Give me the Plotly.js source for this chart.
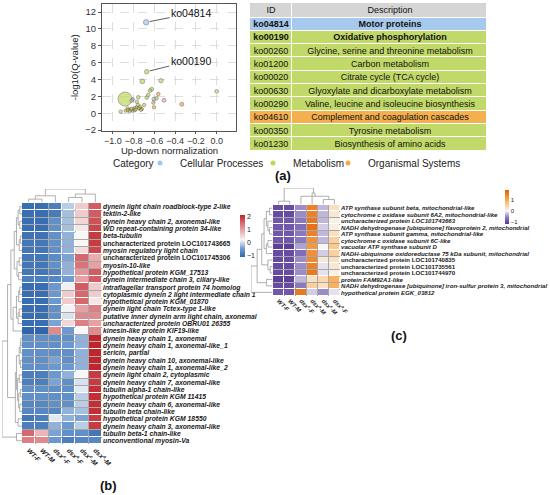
<!DOCTYPE html>
<html><head><meta charset="utf-8">
<script src="https://cdn.plot.ly/plotly-3.0.1.min.js"></script>
<style>html,body{margin:0;padding:0;background:#fff}#chart{width:550px;height:495px}</style>
</head><body><div id="chart"></div>
<script>
// ---------- (a) bubble plot data ----------
const catNames = ['Cellular Processes', 'Metabolism', 'Organismal Systems', 'Other'];
const catColors = ['#a3c6ee', '#bed85c', '#f5ab45', '#eaa6c6'];
const ptX = [-0.68, -0.675, -0.717, -0.537, -0.627, -0.643, -0.66, -0.675, 0.0, -0.337, -0.508, -0.563, -0.605, -0.58, -0.611, -0.605, -0.70, -0.74, -0.756, -0.77, -0.81, -0.82, -0.884, -0.926,
  -0.88, -0.86, -0.85, -0.83, -0.82, -0.80, -0.79, -0.78, -0.77, -0.75, -0.74, -0.72, -0.84, -0.81, -0.79, -0.76, -0.86, -0.73];
const ptY = [10.78, 4.93, 3.79, 3.86, 2.84, 2.68, 2.17, 1.85, 2.6, 1.07, 1.54, 2.29, 1.69, 1.78, 1.26, 0.71, 0.98, 0.59, 1.9, 1.37, 1.66, 1.5, 1.69, 0.19,
  0.3, 0.35, 0.45, 0.4, 0.55, 0.5, 0.65, 0.45, 0.7, 0.6, 0.8, 0.5, 0.2, 0.3, 0.35, 1.0, 0.6, 0.4];
const ptSize = [5.5, 4.5, 4.8, 4.3, 4, 3.6, 3.6, 3.6, 3.8, 4, 4, 3.6, 4, 3.6, 3.5, 3.5, 3.5, 3.5, 3.6, 3.5, 3.6, 3.6, 14, 3.6,
  3.2, 3.2, 3.2, 3.2, 3.2, 3.2, 3.2, 3.2, 3.2, 3.2, 3.2, 3.2, 3.2, 3.2, 3.2, 3.4, 3.2, 3.2];
const ptCat = [0, 1, 1, 1, 1, 1, 1, 1, 1, 2, 3, 2, 0, 1, 2, 2, 1, 1, 1, 1, 0, 3, 1, 1,
  1, 2, 1, 1, 2, 1, 1, 2, 1, 1, 2, 1, 1, 0, 1, 1, 1, 2];
const labelIdx = [0, 1];
const labelText = ['ko04814', 'ko00190'];

// ---------- (a) table data ----------
const tblHeader = ['ID', 'Description'];
const tblIds = ['ko04814', 'ko00190', 'ko00260', 'ko01200', 'ko00020', 'ko00630', 'ko00290', 'ko04610', 'ko00350', 'ko01230'];
const tblDesc = ['Motor proteins', 'Oxidative phosphorylation', 'Glycine, serine and threonine metabolism', 'Carbon metabolism',
  'Citrate cycle (TCA cycle)', 'Glyoxylate and dicarboxylate metabolism', 'Valine, leucine and isoleucine biosynthesis',
  'Complement and coagulation cascades', 'Tyrosine metabolism', 'Biosynthesis of amino acids'];
const tblCat = [0, 1, 1, 1, 1, 1, 1, 2, 1, 1];
const tblBold = [true, true, false, false, false, false, false, false, false, false];
const tblColors = ['#a7c9ee', '#c1d968', '#f4b04e', '#d5d5d5'];

// ---------- (b) heatmap data ----------
const bCols = ['WT-F', 'WT-M', 'dsx<sup>c</sup>-F', 'dsx<sup>a</sup>-F', 'dsx<sup>c</sup>-M', 'dsx<sup>a</sup>-M'];
const bRows = ['dynein light chain roadblock-type 2-like', 'tektin-2-like', 'dynein heavy chain 2, axonemal-like',
  'WD repeat-containing protein 34-like', 'beta-tubulin', 'uncharacterized protein LOC101743665', 'myosin regulatory light chain',
  'uncharacterized protein LOC101745306', 'myosin-10-like', 'hypothetical protein KGM_17513', 'dynein intermediate chain 3, ciliary-like',
  'intraflagellar transport protein 74 homolog', 'cytoplasmic dynein 2 light intermediate chain 1', 'hypothetical protein KGM_01870',
  'dynein light chain Tctex-type 1-like', 'putative inner dynein arm light chain, axonemal', 'uncharacterized protein OBRU01 26355',
  'kinesin-like protein KIF19-like', 'dynein heavy chain 1, axonemal', 'dynein heavy chain 1, axonemal-like_1', 'sericin, partial',
  'dynein heavy chain 10, axonemal-like', 'dynein heavy chain 1, axonemal-like_2', 'dynein light chain 2, cytoplasmic',
  'dynein heavy chain 7, axonemal-like', 'tubulin alpha-1 chain-like', 'hypothetical protein KGM 11415', 'dynein heavy chain 6, axonemal-like',
  'tubulin beta chain-like', 'hypothetical protein KGM 18550', 'dynein heavy chain 3, axonemal-like', 'tubulin beta-1 chain-like',
  'unconventional myosin-Va'];
const bUpright = [5, 7];
const bZ = [
  [-1.0, -1.0, -0.8, -0.1, 0.6, 1.6], [-1.0, -1.0, -0.85, -0.2, 0.6, 1.6], [-1.0, -1.0, -0.6, -0.2, 0.5, 1.7],
  [-1.0, -1.0, -0.6, -0.2, 0.35, 1.8], [-0.95, -0.95, -0.6, -0.3, 0.2, 1.9], [-0.9, -0.9, -0.6, -0.3, 0.2, 1.9],
  [-0.9, -0.9, -0.6, -0.3, 0.45, 1.8], [-0.9, -0.9, -0.65, -0.4, 1.5, 0.9], [-0.9, -0.9, -0.6, -0.3, 1.4, 1.0],
  [-0.9, -0.9, -0.75, -0.3, 1.1, 1.6], [-0.8, -0.8, -0.7, -0.45, 1.0, 1.6], [-1.0, -1.0, -0.5, 0.15, 1.6, 0.6],
  [-1.0, -1.0, -0.5, 0.6, 1.5, 0.6], [-1.0, -1.0, -0.5, 0.6, 1.5, 0.35], [-1.0, -1.0, -0.6, 0.25, 1.0, 1.3],
  [-1.0, -1.0, -0.6, 0.05, 1.2, 1.2], [-1.0, -1.0, -0.4, 0.5, 1.3, 1.0], [-1.1, -1.1, 1.2, -0.5, 0.2, 1.2],
  [-0.6, -0.6, -0.6, -0.6, -0.3, 2.1], [-0.6, -0.6, -0.6, -0.5, -0.3, 2.1], [-0.6, -0.6, -0.6, -0.6, -0.3, 2.1],
  [-0.6, -0.6, -0.4, -0.6, -0.3, 2.1], [-0.6, -0.6, -0.5, -0.5, -0.3, 2.1], [-0.8, -0.8, -0.5, -0.3, 0.2, 1.9],
  [-0.8, -0.8, -0.4, -0.6, 0.05, 1.9], [-0.6, -0.6, -0.6, -0.6, 0.1, 2.0], [-0.6, -0.6, -0.6, -0.6, -0.1, 2.0],
  [-0.7, -0.7, -0.6, -0.6, -0.1, 2.0], [-0.7, -0.7, -0.7, -0.3, -0.2, 2.0], [-0.9, -0.8, 0.1, -0.3, -0.4, 1.9],
  [-0.8, -0.8, -0.3, -0.5, -0.1, 1.9], [1.5, 0.8, -0.4, -0.6, -0.6, -0.9], [1.3, 1.2, -0.5, -0.8, -0.7, -0.7]];
const bRowTree = [[-1, -2, 0.2], [-3, -4, 0.2], [1, 2, 0.35], [-5, -6, 0.15], [4, -7, 0.25], [3, 5, 0.5], [-8, -9, 0.25],
  [-10, -11, 0.3], [7, 8, 0.45], [6, 9, 0.7], [-12, -13, 0.2], [11, -14, 0.3], [-15, -16, 0.25], [13, -17, 0.35], [12, 14, 0.5],
  [15, -18, 0.8], [10, 16, 1.0], [-19, -20, 0.1], [18, -21, 0.15], [-22, -23, 0.15], [19, 20, 0.25], [-24, -25, 0.25],
  [-26, -27, 0.15], [-28, -29, 0.2], [23, 24, 0.3], [22, 25, 0.4], [21, 26, 0.5], [-30, -31, 0.35], [27, 28, 0.6],
  [17, 29, 1.3], [-32, -33, 0.5], [30, 31, 1.8]];
const bColTree = [[-1, -2, 0.3], [1, -3, 0.6], [-4, -5, 0.45], [3, -6, 0.75], [2, 4, 1.2]];

// ---------- (c) heatmap data ----------
const cCols = ['WT-F', 'WT-M', 'dsx<sup>c</sup>-F', 'dsx<sup>a</sup>-M', 'dsx<sup>c</sup>-M', 'dsx<sup>a</sup>-F'];
const cRows = ['ATP synthase subunit beta, mitochondrial-like', 'cytochrome c oxidase subunit 6A2, mitochondrial-like',
  'uncharacterized protein LOC101743663', 'NADH dehydrogenase [ubiquinone] flavoprotein 2, mitochondrial',
  'ATP synthase subunit gamma, mitochondrial-like', 'cytochrome c oxidase subunit 6C-like', 'vacuolar ATP synthase subunit D',
  'NADH-ubiquinone oxidoreductase 75 kDa subunit, mitochondrial', 'uncharacterized protein LOC101740835',
  'uncharacterized protein LOC101735561', 'uncharacterized protein LOC101744970', 'protein FAM92A1-like',
  'NADH dehydrogenase [ubiquinone] iron-sulfur protein 3, mitochondrial', 'hypothetical protein EGK_03812'];
const cUpright = [8, 9, 10];
const cZ = [
  [-1.0, -1.0, -0.5, 1.5, -0.3, 0.3], [-1.0, -1.0, -0.5, 1.5, -0.3, 0.2], [-0.9, -0.9, -0.6, 1.6, -0.3, 0.1],
  [-0.9, -0.9, -0.7, 1.7, -0.2, 0.1], [-0.9, -0.9, -0.6, 1.5, -0.3, 0.3], [-0.9, -0.9, -0.6, 1.3, -0.3, 0.5],
  [-1.1, -1.1, -0.4, 1.2, 0.0, 0.6], [-1.0, -1.0, -0.7, 1.3, -0.2, 0.5], [-1.0, -1.0, -0.5, 1.4, 0.2, 0.3],
  [-1.0, -1.0, -0.5, 1.5, -0.1, 0.2], [-1.0, -1.0, -0.5, 1.6, -0.1, 0.1], [-1.1, -1.1, -0.3, 0.3, 0.4, 0.9],
  [-1.0, -1.0, -0.6, 0.5, 0.3, 0.9], [-0.9, -0.9, 1.6, -0.2, -0.5, -0.1]];
const cRowTree = [[-1, -2, 0.2], [-4, -5, 0.2], [-3, 2, 0.3], [1, 3, 0.4], [-6, -7, 0.3], [5, -8, 0.4], [4, 6, 0.55],
  [-10, -11, 0.15], [-9, 8, 0.3], [7, 9, 0.7], [-12, -13, 0.4], [10, 11, 1.0], [12, -14, 1.4]];
const cColTree = [[-1, -2, 0.2], [-5, -6, 0.3], [-3, 2, 0.5], [3, -4, 0.7], [1, 4, 1.0]];

// ---------- helpers ----------
const W = 550, H = 495;
const px = v => v / W;
const py = v => 1 - v / H;
const FONT = 'Liberation Sans, Arial, sans-serif';
const TBL_COLW = [42, 195], TBL_HEAD_H = 14.5, TBL_ROW_H = 13.3;
const LEGEND_TEXT_X = [180, 293, 368];

function dendro(merges, orient) {
  const pos = [], hts = [], xs = [], ys = [];
  const gp = c => c < 0 ? (-c - 1) : pos[c - 1];
  const gh = c => c < 0 ? 0 : hts[c - 1];
  merges.forEach(([a, b, h], i) => {
    const pa = gp(a), pb = gp(b), ha = gh(a), hb = gh(b);
    pos[i] = (pa + pb) / 2; hts[i] = h;
    const P = [pa, pa, pb, pb], Hh = [ha, h, h, hb];
    if (orient === 'top') { xs.push(...P, null); ys.push(...Hh, null); }
    else { xs.push(...Hh, null); ys.push(...P, null); }
  });
  return { xs, ys, maxH: Math.max(...hts) };
}
const idx = n => Array.from({ length: n }, (_, i) => i);
const bounds = n => Array.from({ length: n + 1 }, (_, i) => i - 0.5);
const rowLabel = (t, i, upright) => upright.includes(i) ? '<b>' + t + '</b>' : '<b><i>' + t + '</i></b>';

const traces = [];
catNames.forEach((name, c) => {
  const ii = ptX.map((_, i) => i).filter(i => ptCat[i] === c);
  traces.push({
    type: 'scatter', mode: 'markers', xaxis: 'x', yaxis: 'y', name, showlegend: false, hoverinfo: 'skip',
    x: ii.map(i => ptX[i]), y: ii.map(i => ptY[i]),
    marker: { color: catColors[c], size: ii.map(i => ptSize[i]), line: { color: '#4a4a4a', width: 0.6 } }
  });
});
const legendIds = ['legend', 'legend2', 'legend3'];
catNames.slice(0, 3).forEach((name, c) => {
  traces.push({ type: 'scatter', mode: 'markers', xaxis: 'x', yaxis: 'y', name, x: [null], y: [null], showlegend: true,
    legend: legendIds[c], marker: { color: catColors[c], size: 5 } });
});

// table drawn as a heatmap of category colours with cell texts
const tblXEdges = [0, TBL_COLW[0], TBL_COLW[0] + TBL_COLW[1]];
const tblYEdges = [0].concat(idx(tblIds.length + 1).map(i => TBL_HEAD_H + i * TBL_ROW_H));
const tblZ = [[3, 3]].concat(tblCat.map(c => [c, c]));
const B = (t, b) => b ? '<b>' + t + '</b>' : t;
const tblText = [tblHeader].concat(tblIds.map((id, i) => [B(id, tblBold[i]), B(tblDesc[i], tblBold[i])]));
traces.push({
  type: 'heatmap', xaxis: 'x8', yaxis: 'y8', x: tblXEdges, y: tblYEdges, z: tblZ, text: tblText, texttemplate: '%{text}',
  textfont: { family: FONT, size: 9, color: '#111' }, zmin: 0, zmax: 3, showscale: false, xgap: 1, ygap: 1, hoverinfo: 'skip',
  colorscale: [[0, tblColors[0]], [1 / 3, tblColors[1]], [2 / 3, tblColors[2]], [1, tblColors[3]]]
});

// (b) heatmap
traces.push({
  type: 'heatmap', xaxis: 'x2', yaxis: 'y2', z: bZ, x: idx(6), y: idx(bRows.length), zmin: -1.1, zmax: 2.1, xgap: 1, ygap: 1,
  hoverinfo: 'skip',
  colorscale: [[0, '#2f66ad'], [0.2, '#6f9bd0'], [0.406, '#f7f7f7'], [0.65, '#e8a2a6'], [1, '#c0242c']],
  colorbar: { x: px(240), xanchor: 'left', y: py(236), yanchor: 'middle', len: 42 / H, thickness: 5, outlinewidth: 0,
    tickvals: [-1, 0, 1, 2], ticks: '', xpad: 0, ypad: 0, tickfont: { size: 7, family: FONT, color: '#222' } }
});
const bRD = dendro(bRowTree, 'left'), bCD = dendro(bColTree, 'top');
traces.push({ type: 'scatter', mode: 'lines', xaxis: 'x4', yaxis: 'y4', x: bRD.xs, y: bRD.ys, line: { color: '#9c9c9c', width: 0.8 }, showlegend: false, hoverinfo: 'skip' });
traces.push({ type: 'scatter', mode: 'lines', xaxis: 'x3', yaxis: 'y3', x: bCD.xs, y: bCD.ys, line: { color: '#9c9c9c', width: 0.8 }, showlegend: false, hoverinfo: 'skip' });

// (c) heatmap
traces.push({
  type: 'heatmap', xaxis: 'x5', yaxis: 'y5', z: cZ, x: idx(6), y: idx(cRows.length), zmin: -1.2, zmax: 1.9, xgap: 1, ygap: 1,
  hoverinfo: 'skip',
  colorscale: [[0, '#553592'], [0.2, '#8c7bc2'], [0.387, '#f7f7f7'], [0.65, '#fdb863'], [1, '#e35f05']],
  colorbar: { x: px(505), xanchor: 'left', y: py(207), yanchor: 'middle', len: 34 / H, thickness: 4, outlinewidth: 0,
    tickvals: [-1, 0, 1], ticks: '', xpad: 0, ypad: 0, tickfont: { size: 6, family: FONT, color: '#222' } }
});
const cRD = dendro(cRowTree, 'left'), cCD = dendro(cColTree, 'top');
traces.push({ type: 'scatter', mode: 'lines', xaxis: 'x7', yaxis: 'y7', x: cRD.xs, y: cRD.ys, line: { color: '#9c9c9c', width: 0.8 }, showlegend: false, hoverinfo: 'skip' });
traces.push({ type: 'scatter', mode: 'lines', xaxis: 'x6', yaxis: 'y6', x: cCD.xs, y: cCD.ys, line: { color: '#9c9c9c', width: 0.8 }, showlegend: false, hoverinfo: 'skip' });

const hidden = (dom, range, anchor) => ({ domain: dom, range, anchor, visible: false, fixedrange: true });
const minorGrid = n => ({ tickmode: 'array', tickvals: bounds(n), showgrid: true, gridcolor: '#a8a8a8', gridwidth: 1, ticks: '' });

const annotations = labelIdx.map((pi, k) => ({
  xref: 'x', yref: 'y', x: ptX[pi], y: ptY[pi], text: labelText[k], showarrow: true, arrowhead: 0, arrowwidth: 0.8,
  arrowcolor: '#333', ax: k === 0 ? 45 : 44, ay: k === 0 ? -9 : -11, standoff: ptSize[pi] / 2 + 1,
  font: { size: 10.5, family: FONT, color: '#111' }
}));
[['(a)', 283, 175], ['(b)', 108, 485], ['(c)', 399, 335]].forEach(([t, x, y]) => annotations.push({
  xref: 'paper', yref: 'paper', x: px(x), y: py(y), text: '<b>' + t + '</b>', showarrow: false,
  font: { size: 13, family: FONT, color: '#111' }, xanchor: 'center', yanchor: 'middle'
}));
annotations.push({ xref: 'paper', yref: 'paper', x: px(111), y: py(163), text: 'Category', showarrow: false, xanchor: 'left',
  yanchor: 'middle', font: { size: 10, family: FONT, color: '#222' } });
annotations.push({ xref: 'paper', yref: 'paper', x: px(169), y: py(150.5), text: 'Up-down normalization', showarrow: false,
  xanchor: 'center', yanchor: 'middle', font: { size: 9.5, family: FONT, color: '#222' } });

const legendBase = x => ({ orientation: 'h', x: px(x - 40), xanchor: 'left', y: py(163), yanchor: 'middle', itemwidth: 30,
  font: { size: 10, color: '#222' }, bgcolor: 'rgba(0,0,0,0)' });

const layout = {
  width: W, height: H, margin: { l: 0, r: 0, t: 0, b: 0 }, paper_bgcolor: '#fff', plot_bgcolor: '#fff',
  font: { family: FONT, color: '#222' },
  showlegend: true,
  legend: legendBase(LEGEND_TEXT_X[0]),
  legend2: legendBase(LEGEND_TEXT_X[1]),
  legend3: legendBase(LEGEND_TEXT_X[2]),
  xaxis: {
    domain: [px(102), px(236)], range: [-1.106, 0.186], anchor: 'y', tickvals: [-1, -0.8, -0.6, -0.4, -0.2, 0], tickformat: '.1f',
    tickangle: 0, showline: true, mirror: true, linecolor: '#555', linewidth: 1, ticks: 'outside', ticklen: 2, tickcolor: '#555',
    showgrid: true, gridcolor: '#d6d6d6', griddash: 'dash', gridwidth: 0.8, zeroline: false,
    tickfont: { size: 9, color: '#333' }
  },
  yaxis: {
    domain: [py(130.5), py(4)], range: [-2.04, 12.95], anchor: 'x', tickvals: [-2, 0, 2, 4, 6, 8, 10, 12],
    showline: true, mirror: true, linecolor: '#555', linewidth: 1, ticks: 'outside', ticklen: 3, tickcolor: '#555',
    showgrid: true, gridcolor: '#d6d6d6', griddash: 'dash', gridwidth: 0.8, zeroline: false,
    tickfont: { size: 9.5, color: '#333' }, title: { text: '-log10(Q-value)', font: { size: 9.5, color: '#222' }, standoff: 4 }
  },
  xaxis2: {
    domain: [px(22), px(102)], range: [-0.5, 5.5], anchor: 'y2', tickmode: 'array', tickvals: idx(6),
    ticktext: bCols.map(t => '<b><i>' + t + '</i></b>'), tickangle: 45, ticks: '', showgrid: false, zeroline: false,
    minor: minorGrid(6), tickfont: { size: 6.5, color: '#222' }, fixedrange: true, automargin: false
  },
  yaxis2: {
    domain: [py(444.4), py(203)], range: [bRows.length - 0.5, -0.5], anchor: 'x2', side: 'right', tickmode: 'array',
    tickvals: idx(bRows.length), ticktext: bRows.map((t, i) => rowLabel(t, i, bUpright)), ticks: '', showgrid: false,
    zeroline: false, minor: minorGrid(bRows.length), tickfont: { size: 6.8, color: '#1a1a1a' }, fixedrange: true, automargin: false
  },
  xaxis3: hidden([px(22), px(102)], [-0.5, 5.5], 'y3'),
  yaxis3: hidden([py(202.5), py(189)], [0, bCD.maxH], 'x3'),
  xaxis4: hidden([px(2), px(22)], [bRD.maxH, 0], 'y4'),
  yaxis4: hidden([py(444.4), py(203)], [bRows.length - 0.5, -0.5], 'x4'),
  xaxis5: {
    domain: [px(273), px(340)], range: [-0.5, 5.5], anchor: 'y5', tickmode: 'array', tickvals: idx(6),
    ticktext: cCols.map(t => '<b><i>' + t + '</i></b>'), tickangle: 45, ticks: '', showgrid: false, zeroline: false,
    minor: minorGrid(6), tickfont: { size: 5.8, color: '#222' }, fixedrange: true, automargin: false
  },
  yaxis5: {
    domain: [py(295.6), py(205)], range: [cRows.length - 0.5, -0.5], anchor: 'x5', side: 'right', tickmode: 'array',
    tickvals: idx(cRows.length), ticktext: cRows.map((t, i) => rowLabel(t, i, cUpright)), ticks: '', showgrid: false,
    zeroline: false, minor: minorGrid(cRows.length), tickfont: { size: 6.1, color: '#1a1a1a' }, fixedrange: true, automargin: false
  },
  xaxis6: hidden([px(273), px(340)], [-0.5, 5.5], 'y6'),
  yaxis6: hidden([py(204.5), py(188)], [0, cCD.maxH], 'x6'),
  xaxis7: hidden([px(251), px(272.5)], [cRD.maxH, 0], 'y7'),
  yaxis7: hidden([py(295.6), py(205)], [cRows.length - 0.5, -0.5], 'x7'),
  xaxis8: hidden([px(250), px(487)], [0, TBL_COLW[0] + TBL_COLW[1]], 'y8'),
  yaxis8: hidden([py(3 + TBL_HEAD_H + tblIds.length * TBL_ROW_H), py(3)], [TBL_HEAD_H + tblIds.length * TBL_ROW_H, 0], 'x8'),
  annotations
};

Plotly.newPlot('chart', traces, layout, { displayModeBar: false, staticPlot: true });
</script>
</body></html>
